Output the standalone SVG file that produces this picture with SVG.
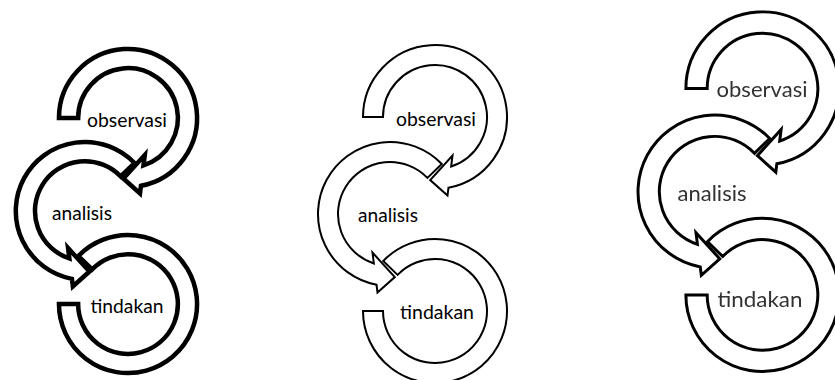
<svg xmlns="http://www.w3.org/2000/svg" width="835" height="380" viewBox="0 0 835 380">
<style>
  .ring{fill:#fff;stroke:#000;stroke-linejoin:miter;stroke-miterlimit:6}
  .d1 .ring{stroke-width:4.7}
  .d2 .ring{stroke-width:2}
  .d3 .ring{stroke-width:2.8}
  text{font-family:Lato,"Open Sans","Liberation Sans",sans-serif;text-anchor:middle;fill:#000}
  .t12{font-size:19.5px}
  .t3{font-size:22px;fill:#333}
</style>
<defs>
  <path id="ring-obs" d="M -72,0 A 72 72 0 1 1 13.49,70.72 L 12.5,78.6 L -4.8,63.1 L 17.5,38.6 L 16.15,49.44 A 52 52 0 1 0 -52,0 Z"/>
  <path id="ring-ana" d="M 6.79,46.98 A 72 72 0 1 0 -58.49,167.72 L -57.5,175.6 L -40.2,160.1 L -62.5,135.6 L -61.15,146.44 A 52 52 0 1 1 -7.60,60.88 Z"/>
  <path id="ring-tin" d="M -51.79,143.98 A 72 72 0 1 1 -72,194 L -52,194 A 52 52 0 1 0 -37.40,157.88 Z"/>
  <filter id="soft" x="-10%" y="-10%" width="120%" height="120%"><feGaussianBlur stdDeviation="0.55"/></filter>
</defs>
<rect width="835" height="380" fill="#fff"/>

<g id="diagram-1" class="d1">
  <g id="d1-observasi">
    <use href="#ring-obs" class="ring" transform="translate(128,118) scale(0.959)"/>
    <text class="t12" x="127" y="126.5" textLength="80" lengthAdjust="spacingAndGlyphs">observasi</text>
  </g>
  <g id="d1-analisis">
    <use href="#ring-ana" class="ring" transform="translate(128,118) scale(0.959)"/>
    <text class="t12" x="82" y="220" textLength="60" lengthAdjust="spacingAndGlyphs">analisis</text>
  </g>
  <g id="d1-tindakan">
    <use href="#ring-tin" class="ring" transform="translate(128,118) scale(0.959)"/>
    <text class="t12" x="127" y="313" textLength="73" lengthAdjust="spacingAndGlyphs">tindakan</text>
  </g>
</g>

<g id="diagram-2" class="d2">
  <g id="d2-observasi">
    <use href="#ring-obs" class="ring" transform="translate(435,117)"/>
    <text class="t12" x="436" y="125.7" textLength="80" lengthAdjust="spacingAndGlyphs">observasi</text>
  </g>
  <g id="d2-analisis">
    <use href="#ring-ana" class="ring" transform="translate(435,117)"/>
    <text class="t12" x="388" y="222" textLength="60" lengthAdjust="spacingAndGlyphs">analisis</text>
  </g>
  <g id="d2-tindakan">
    <use href="#ring-tin" class="ring" transform="translate(435,117)"/>
    <text class="t12" x="437" y="319" textLength="74" lengthAdjust="spacingAndGlyphs">tindakan</text>
  </g>
</g>

<g id="diagram-3" class="d3" filter="url(#soft)">
  <g id="d3-observasi">
    <use href="#ring-obs" class="ring" transform="translate(762.5,88.5) scale(1.064)"/>
    <text class="t3" x="762" y="96.5" textLength="91" lengthAdjust="spacingAndGlyphs">observasi</text>
  </g>
  <g id="d3-analisis">
    <use href="#ring-ana" class="ring" transform="translate(762.5,88.5) scale(1.064)"/>
    <text class="t3" x="712" y="201" textLength="69" lengthAdjust="spacingAndGlyphs">analisis</text>
  </g>
  <g id="d3-tindakan">
    <use href="#ring-tin" class="ring" transform="translate(762.5,88.5) scale(1.064)"/>
    <text class="t3" x="760" y="307" textLength="85" lengthAdjust="spacingAndGlyphs">tindakan</text>
  </g>
</g>
</svg>
